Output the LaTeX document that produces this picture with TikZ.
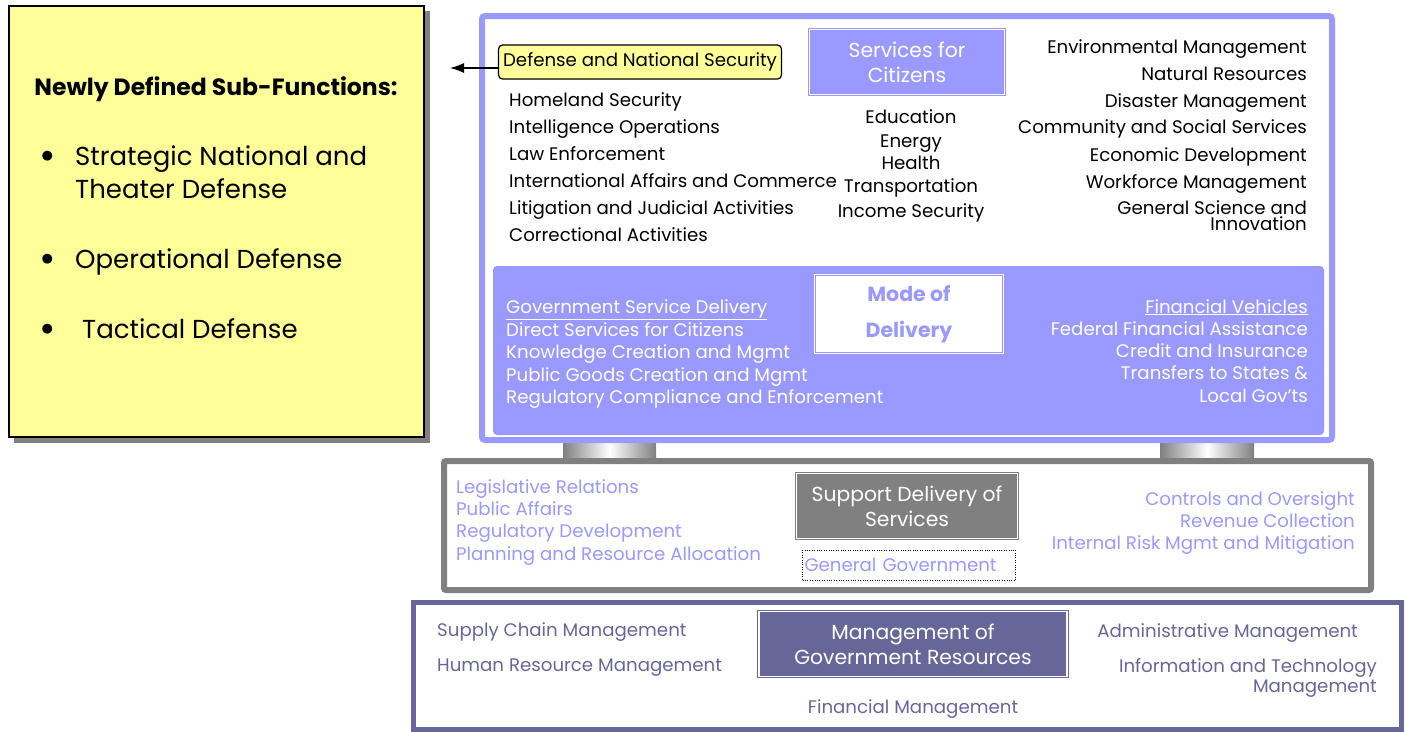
\documentclass[tikz,border=0pt]{standalone}
\usepackage{fontspec}
\setmainfont{Poppins}
\usetikzlibrary{arrows.meta}
\definecolor{lav}{HTML}{9999FF}
\definecolor{slate}{HTML}{666699}
\definecolor{note}{HTML}{FFFF99}
\definecolor{steel}{HTML}{808080}

\begin{document}
\begin{tikzpicture}[x=1pt, y=-1pt, font=\fontsize{18.2}{20}\selectfont]
\tikzset{item/.style = {inner sep=0pt, anchor=base west}}
\tikzset{itemr/.style = {inner sep=0pt, anchor=base east}}
\tikzset{itemc/.style = {inner sep=0pt, anchor=base}}
\tikzset{header/.style = {draw=#1, fill=#1, double=white, double distance=1.2pt, line width=1pt,
    text=white, align=center, font=\fontsize{20.3}{25}\selectfont}}
\tikzset{edge/.style = {->, > = {Latex[length=14pt, width=10pt]}, line width=1.2pt}}

\useasboundingbox (0,0) rectangle (1405,731);

% note on the left
\fill[steel] (14,11) rectangle (430,443);
\node[draw, line width=1.5pt, fill=note, minimum width=415, minimum height=431, anchor=north west, inner sep=0pt] (note) at (8,5) {};
\node[itemc, font=\fontsize{23.5}{28}\selectfont\bfseries] (title) at (216,95) {Newly Defined Sub-Functions:};
\begin{scope}[font=\fontsize{26}{30}\selectfont]
\node[itemc, font=\fontsize{40}{40}\selectfont] (b1) at (48,169) {•};
\node[item] (sub1) at (75,165) {Strategic National and};
\node[item] (sub1b) at (75,198) {Theater Defense};
\node[itemc, font=\fontsize{40}{40}\selectfont] (b2) at (48,272) {•};
\node[item] (sub2) at (75,268) {Operational Defense};
\node[itemc, font=\fontsize{40}{40}\selectfont] (b3) at (48,342) {•};
\node[item] (sub3) at (82,338) {Tactical Defense};
\end{scope}

% pillars and frames
\shade[left color=steel, right color=steel, middle color=white] (563,442) rectangle (656,459);
\shade[left color=steel, right color=steel, middle color=white] (1160,442) rectangle (1254,459);
\draw[lav, line width=6pt, rounded corners=3pt] (482,16) rectangle (1332,440);
\fill[lav, rounded corners=4pt] (493,266) rectangle (1324,435);
\draw[steel, line width=6pt, rounded corners=2pt] (444,461) rectangle (1371,590);
\draw[slate, line width=5pt] (413,602) rectangle (1401,729);

% services for citizens
\node[header=lav, minimum width=195, minimum height=65] (sfc) at (907,62) {Services for\\Citizens};
\node[draw, fill=note, rounded corners=4pt, line width=1.2pt, minimum width=283, minimum height=34, inner sep=2pt] (dns) at (640,62) {Defense and National Security};
\coordinate (tip) at (450,68);
\draw[edge] (dns.west |- tip) -- (tip);

\foreach \t [count=\i] in {Homeland Security, Intelligence Operations, Law Enforcement,
    International Affairs and Commerce, Litigation and Judicial Activities, Correctional Activities}
  \node[item] (dl\i) at (509,{106+27*(\i-1)}) {\t};
\foreach \y/\t [count=\i] in {123/Education, 147/Energy, 169/Health, 192/Transportation, 217/Income Security}
  \node[itemc] (sv\i) at (911,\y) {\t};
\foreach \y/\t [count=\i] in {53/Environmental Management, 80/Natural Resources, 107/Disaster Management,
    133/Community and Social Services, 161/Economic Development, 188/Workforce Management,
    214/General Science and, 230/Innovation}
  \node[itemr] (sr\i) at (1307,\y) {\t};

% mode of delivery
\node[draw=lav, fill=white, double=white, double distance=1.2pt, line width=1pt, minimum width=189, minimum height=79,
    text=lav, align=center, font=\fontsize{20.5}{36}\selectfont\bfseries] (mode) at (909,314) {Mode of\\Delivery};
\foreach \y/\t [count=\i] in {313/\underline{Government Service Delivery}, 336/Direct Services for Citizens,
    358/Knowledge Creation and Mgmt, 381/Public Goods Creation and Mgmt, 403/Regulatory Compliance and Enforcement}
  \node[item, text=white] (gs\i) at (506,\y) {\t};
\foreach \y/\t [count=\i] in {313/\underline{Financial Vehicles}, 335/Federal Financial Assistance,
    357/Credit and Insurance, 379/Transfers to States \&, 402/Local Gov’ts}
  \node[itemr, text=white] (fv\i) at (1308,\y) {\t};

% support delivery of services
\node[header=steel, minimum width=221, minimum height=65] (sds) at (907,506) {Support Delivery of\\Services};
\node[draw, dotted, minimum height=30, text width=209, align=left, inner xsep=2pt, inner ysep=0pt, text=lav] (gg) at (909,565) {General Government};
\foreach \y/\t [count=\i] in {493/Legislative Relations, 515/Public Affairs, 537/Regulatory Development,
    560/Planning and Resource Allocation}
  \node[item, text=lav] (sl\i) at (456,\y) {\t};
\foreach \y/\t [count=\i] in {505/Controls and Oversight, 527/Revenue Collection, 549/Internal Risk Mgmt and Mitigation}
  \node[itemr, text=lav] (sr\i) at (1355,\y) {\t};

% management of government resources
\node[header=slate, minimum width=308, minimum height=65] (mgr) at (913,644) {Management of\\Government Resources};
\begin{scope}[text=slate]
\node[item] (scm) at (437,636) {Supply Chain Management};
\node[item] (hrm) at (437,671) {Human Resource Management};
\node[itemr] (adm) at (1358,637) {Administrative Management};
\node[itemr] (itm) at (1377,672) {Information and Technology};
\node[itemr] (itm2) at (1377,692) {Management};
\node[itemc] (fin) at (913,713) {Financial Management};
\end{scope}
\end{tikzpicture}
\end{document}
